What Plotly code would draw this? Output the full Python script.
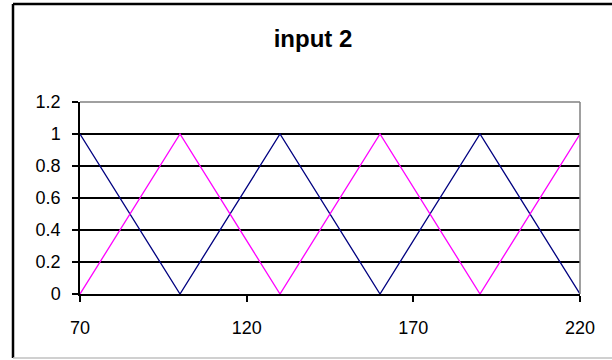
import plotly.graph_objects as go

# membership functions for input 2
x_vals = [70, 100, 130, 160, 190, 220]
series_a = [1, 0, 1, 0, 1, 0]   # navy
series_b = [0, 1, 0, 1, 0, 1]   # magenta
x_ticks = [70, 120, 170, 220]
y_ticks = [0, 0.2, 0.4, 0.6, 0.8, 1, 1.2]
y_tick_text = ["0", "0.2", "0.4", "0.6", "0.8", "1", "1.2"]

fig = go.Figure()
fig.add_trace(go.Scatter(x=x_vals, y=series_a, mode="lines",
                         line=dict(color="#000080", width=1.3), showlegend=False))
fig.add_trace(go.Scatter(x=x_vals, y=series_b, mode="lines",
                         line=dict(color="#FF00FF", width=1.3), showlegend=False))

font = dict(family="Liberation Sans, Arial, sans-serif", size=18, color="black")

fig.update_layout(
    width=612, height=360,
    margin=dict(l=80, r=32, t=102, b=66),
    paper_bgcolor="white", plot_bgcolor="white",
    font=font,
    title=dict(text="<b>input 2</b>", x=313 / 612, xanchor="center",
               y=1 - 39 / 360, yanchor="middle",
               font=dict(family="Liberation Sans, Arial, sans-serif", size=24, color="black")),
    xaxis=dict(range=[70, 220], tickvals=x_ticks, ticks="outside", ticklen=6,
               tickcolor="black", tickwidth=1.5, showgrid=False, zeroline=False,
               showline=True, linecolor="black", linewidth=1.5,
               mirror=False, ticklabelstandoff=11, tickfont=font),
    yaxis=dict(range=[0, 1.2], tickvals=y_ticks, ticktext=y_tick_text,
               ticks="outside", ticklen=6, tickcolor="black", tickwidth=1.5,
               showgrid=True, gridcolor="black", gridwidth=1.5, zeroline=False,
               showline=True, linecolor="black", linewidth=1.5,
               ticklabelstandoff=8, tickfont=font),
    shapes=[
        # plot-area frame: grey top and right edges
        dict(type="line", xref="paper", yref="paper", x0=0, x1=1, y0=1, y1=1,
             line=dict(color="#808080", width=1.5)),
        dict(type="line", xref="paper", yref="paper", x0=1, x1=1, y0=0, y1=1,
             line=dict(color="#808080", width=1.5)),
        # outer chart border
        dict(type="line", xref="paper", yref="paper", x0=-0.134, x1=1.1,
             y0=1.51, y1=1.51, line=dict(color="black", width=2.5)),
        dict(type="line", xref="paper", yref="paper", x0=-0.134, x1=-0.134,
             y0=-0.333, y1=1.51, line=dict(color="black", width=2.5)),
        dict(type="line", xref="paper", yref="paper", x0=-0.134, x1=1.1,
             y0=-0.333, y1=-0.333, line=dict(color="#C0C0C0", width=1.5)),
    ],
)

fig.write_html("out.html")
